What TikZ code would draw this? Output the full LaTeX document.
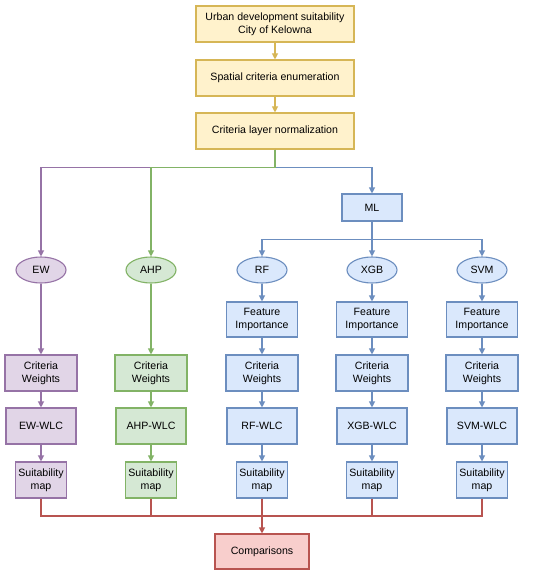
\documentclass[tikz,border=0pt]{standalone}
\usepackage{fontspec}
\setmainfont{Liberation Sans}
\usetikzlibrary{arrows.meta,shapes.geometric}
\definecolor{yfill}{HTML}{FFF2CC}\definecolor{ydraw}{HTML}{D6B656}
\definecolor{pfill}{HTML}{E1D5E7}\definecolor{pdraw}{HTML}{9673A6}
\definecolor{gfill}{HTML}{D5E8D4}\definecolor{gdraw}{HTML}{82B366}
\definecolor{bfill}{HTML}{DAE8FC}\definecolor{bdraw}{HTML}{6C8EBF}
\definecolor{rfill}{HTML}{F8CECC}\definecolor{rdraw}{HTML}{B85450}
\begin{document}
\begin{tikzpicture}[x=1pt,y=-1pt,
  every node/.style={font=\fontsize{10.6}{13}\selectfont, align=center, inner sep=0pt, line width=1.1pt},
  box/.style={draw, rectangle, minimum width=#1, minimum height=36pt},
  yb/.style={box=158pt, fill=yfill, draw=ydraw},
  pb/.style={box=#1, fill=pfill, draw=pdraw},
  gb/.style={box=#1, fill=gfill, draw=gdraw},
  bb/.style={box=#1, fill=bfill, draw=bdraw},
  ell/.style={draw, ellipse, minimum width=50pt, minimum height=26pt},
  conn/.style={line width=1.1pt, -{Triangle[length=6pt,width=6pt]}},
  line/.style={line width=1.1pt}
]
\useasboundingbox (0,0) rectangle (550,575);
% top
\node[yb] (t1) at (275,24) {Urban development suitability\\City of Kelowna};
\node[yb] (t2) at (275,78) {Spatial criteria enumeration};
\node[yb] (t3) at (275,131) {Criteria layer normalization};
\node[bb=60pt, minimum height=27pt] (ml) at (372,207.5) {ML};
% ellipses
\node[ell, fill=pfill, draw=pdraw] (ew) at (41,270) {EW};
\node[ell, fill=gfill, draw=gdraw] (ahp) at (151,270) {AHP};
\node[ell, fill=bfill, draw=bdraw] (rf) at (262,270) {RF};
\node[ell, fill=bfill, draw=bdraw] (xgb) at (372,270) {XGB};
\node[ell, fill=bfill, draw=bdraw] (svm) at (482,270) {SVM};
% feature importance
\node[bb=71pt, minimum height=35pt] (fi1) at (262,319.5) {Feature\\Importance};
\node[bb=71pt, minimum height=35pt] (fi2) at (372,319.5) {Feature\\Importance};
\node[bb=71pt, minimum height=35pt] (fi3) at (482,319.5) {Feature\\Importance};
% criteria weights
\node[pb=72pt] (cw1) at (41,373) {Criteria\\Weights};
\node[gb=72pt] (cw2) at (151,373) {Criteria\\Weights};
\node[bb=72pt] (cw3) at (262,373) {Criteria\\Weights};
\node[bb=72pt] (cw4) at (372,373) {Criteria\\Weights};
\node[bb=72pt] (cw5) at (482,373) {Criteria\\Weights};
% WLC
\node[pb=70pt] (w1) at (41,426) {EW-WLC};
\node[gb=70pt] (w2) at (151,426) {AHP-WLC};
\node[bb=70pt] (w3) at (262,426) {RF-WLC};
\node[bb=70pt] (w4) at (372,426) {XGB-WLC};
\node[bb=70pt] (w5) at (482,426) {SVM-WLC};
% suitability map
\node[pb=51pt] (s1) at (41,480) {Suitability\\map};
\node[gb=51pt] (s2) at (151,480) {Suitability\\map};
\node[bb=51pt] (s3) at (262,480) {Suitability\\map};
\node[bb=51pt] (s4) at (372,480) {Suitability\\map};
\node[bb=51pt] (s5) at (482,480) {Suitability\\map};
% comparisons
\node[box=94pt, minimum height=35pt, fill=rfill, draw=rdraw] (cmp) at (262,551.5) {Comparisons};
% top connectors
\draw[conn, ydraw] (t1) -- (t2);
\draw[conn, ydraw] (t2) -- (t3);
\draw[conn, bdraw] (t3.south) -- ++(0,18) -| (ml.north);
\draw[conn, pdraw] (t3.south) -- ++(0,18) -| (ew.north);
\draw[conn, gdraw] (t3.south) -- ++(0,18) -| (ahp.north);
\draw[conn, bdraw] (ml.south) -- ++(0,18) -| (rf.north);
\draw[conn, bdraw] (ml.south) -- ++(0,18) -| (svm.north);
\draw[conn, bdraw] (ml) -- (xgb);
% columns
\draw[conn, pdraw] (ew) -- (cw1);
\draw[conn, gdraw] (ahp) -- (cw2);
\foreach \a/\b/\c in {rf/fi1/cw3, xgb/fi2/cw4, svm/fi3/cw5}{
  \draw[conn, bdraw] (\a) -- (\b);
  \draw[conn, bdraw] (\b) -- (\c);
}
\draw[conn, pdraw] (cw1) -- (w1);
\draw[conn, gdraw] (cw2) -- (w2);
\draw[conn, bdraw] (cw3) -- (w3);
\draw[conn, bdraw] (cw4) -- (w4);
\draw[conn, bdraw] (cw5) -- (w5);
\draw[conn, pdraw] (w1) -- (s1);
\draw[conn, gdraw] (w2) -- (s2);
\draw[conn, bdraw] (w3) -- (s3);
\draw[conn, bdraw] (w4) -- (s4);
\draw[conn, bdraw] (w5) -- (s5);
% bottom red
\coordinate (j) at (262,516);
\draw[line, rdraw] (s1.south) |- (j);
\draw[line, rdraw] (s2.south) |- (j);
\draw[line, rdraw] (s4.south) |- (j);
\draw[line, rdraw] (s5.south) |- (j);
\draw[conn, rdraw] (s3) -- (cmp);
\end{tikzpicture}
\end{document}
